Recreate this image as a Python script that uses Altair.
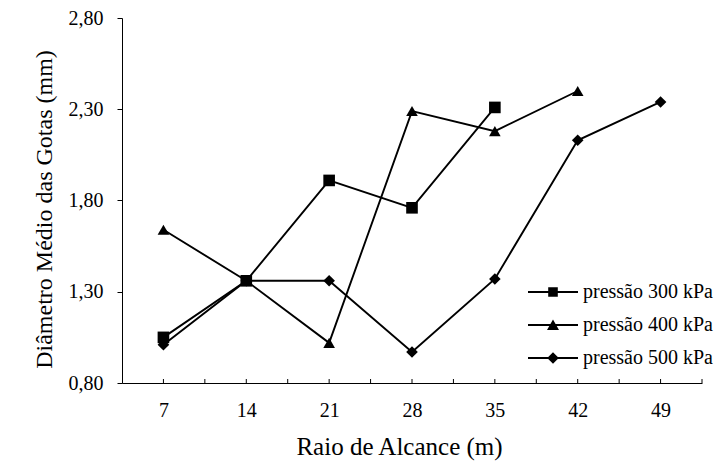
import altair as alt
import pandas as pd

# ---- data ----
raio = [7, 14, 21, 28, 35, 42, 49]
p300 = [1.05, 1.36, 1.91, 1.76, 2.31]
p400 = [1.64, 1.36, 1.02, 2.29, 2.18, 2.40]
p500 = [1.01, 1.36, 1.36, 0.97, 1.37, 2.13, 2.34]
series = ["pressão 300 kPa", "pressão 400 kPa", "pressão 500 kPa"]
y_ticks = [0.80, 1.30, 1.80, 2.30, 2.80]
x_minor_ticks = [7, 10.5, 14, 17.5, 21, 24.5, 28, 31.5, 35, 38.5, 42, 45.5, 49, 52.5]

rows = []
for name, vals in zip(series, [p300, p400, p500]):
    for xv, yv in zip(raio, vals):
        rows.append({"raio": xv, "diam": yv, "serie": name})
df = pd.DataFrame(rows)
ticks_df = pd.DataFrame({"t": x_minor_ticks})

FONT = "Liberation Serif, Times New Roman, serif"
W, H = 580, 365

xscale = alt.Scale(domain=[3.5, 52.5], nice=False, zero=False)
yscale = alt.Scale(domain=[0.8, 2.8], nice=False, zero=False)

x_axis = alt.Axis(
    values=raio, format="d", title="Raio de Alcance (m)", grid=False,
    ticks=False, tickSize=0, labelPadding=17, labelFontSize=20,
    titleFontSize=25, titleFontWeight="normal", titlePadding=14, titleX=277,
    domainColor="black", labelColor="black", titleColor="black",
)
y_axis = alt.Axis(
    values=y_ticks, title="Diâmetro Médio das Gotas (mm)", grid=False,
    labelExpr="replace(format(datum.value, '.2f'), '.', ',')",
    tickSize=5, tickColor="black", labelPadding=14, labelFontSize=20,
    titleFontSize=24, titleFontWeight="normal", titlePadding=12, titleY=191,
    domainColor="black", labelColor="black", titleColor="black",
)

base = alt.Chart(df)

lines = base.mark_line(color="black", strokeWidth=1.9).encode(
    x=alt.X("raio:Q", scale=xscale, axis=x_axis),
    y=alt.Y("diam:Q", scale=yscale, axis=y_axis),
    detail="serie:N",
    order="raio:Q",
)

points = base.mark_point(filled=True, color="black", opacity=1, size=135).encode(
    x=alt.X("raio:Q", scale=xscale),
    y=alt.Y("diam:Q", scale=yscale),
    shape=alt.Shape("serie:N", scale=alt.Scale(domain=series, range=["square", "triangle-up", "diamond"]), legend=None),
)

# legend symbols: line with marker in the middle (custom paths; 1 unit = 10 px at size 400)
leg_paths = [
    "M-2.5,-0.09H2.5V0.09H-2.5Z M-0.48,-0.48H0.48V0.48H-0.48Z",
    "M-2.5,-0.09H2.5V0.09H-2.5Z M0,-0.55L0.6,0.5L-0.6,0.5Z",
    "M-2.5,-0.09H2.5V0.09H-2.5Z M0,-0.58L0.58,0L0,0.58L-0.58,0Z",
]
legend_layer = base.mark_point(filled=True, color="black", opacity=0, size=400).encode(
    x=alt.X("raio:Q", scale=xscale),
    y=alt.Y("diam:Q", scale=yscale),
    shape=alt.Shape(
        "serie:N",
        scale=alt.Scale(domain=series, range=leg_paths),
        legend=alt.Legend(
            title=None, orient="none", legendX=421, legendY=264,
            symbolSize=400, symbolFillColor="black", symbolStrokeWidth=0,
            symbolOpacity=1, labelFontSize=20, labelColor="black",
            labelOffset=20, rowPadding=13, padding=0, offset=0,
        ),
    ),
)

xticks = alt.Chart(ticks_df).mark_rule(color="black", strokeWidth=1).encode(
    x=alt.X("t:Q", scale=xscale),
    y=alt.value(H),
    y2=alt.value(H - 4),
)

chart = (
    alt.layer(lines, points, legend_layer, xticks)
    .resolve_scale(shape="independent")
    .properties(
        width=W, height=H,
        autosize=alt.AutoSizeParams(type="none"),
        padding={"left": 122, "top": 18, "right": 21, "bottom": 79},
        background="white",
    )
    .configure(font=FONT)
    .configure_axis(labelFont=FONT, titleFont=FONT)
    .configure_legend(labelFont=FONT)
    .configure_view(stroke=None)
)

chart.save("out.html", embed_options={"renderer": "svg", "actions": False})
